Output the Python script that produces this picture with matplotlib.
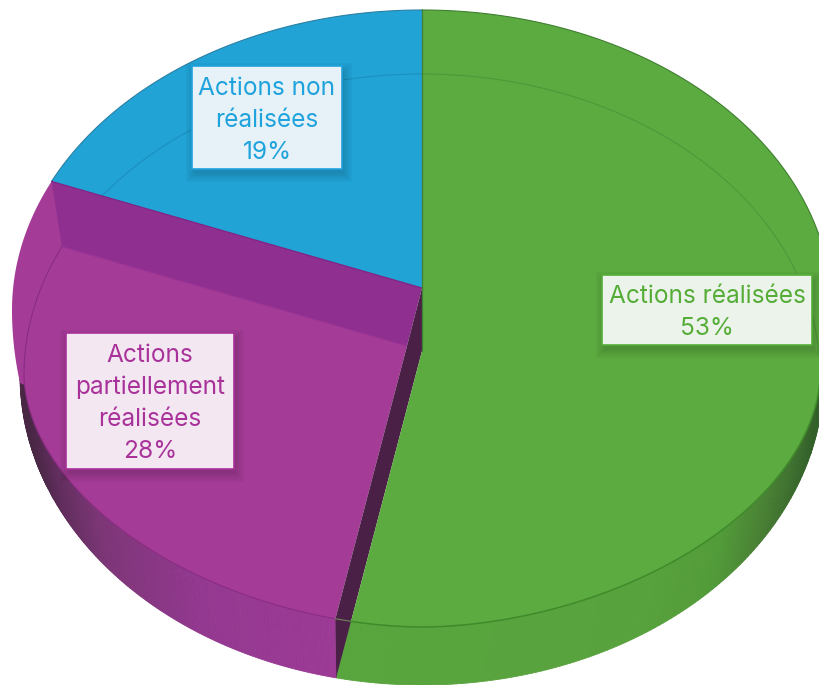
import numpy as np
import matplotlib.pyplot as plt
from matplotlib.patches import Polygon, Rectangle

# Valeurs du graphique
categories = ["Actions réalisées", "Actions\npartiellement\nréalisées", "Actions non\nréalisées"]
values = [53, 28, 19]
colors = ["#5CAB40", "#A43B97", "#22A3D6"]
text_colors = ["#55AD38", "#A9329A", "#1FA3DC"]
box_fills = ["#ECF3EB", "#F3E8F2", "#E7F1F8"]

# Boites des etiquettes: x0, y0, x1, y1 en pixels
boxes = [(602, 275, 812, 345), (66, 333, 234, 469), (192, 66, 342, 169)]

plt.rcParams['font.family'] = ['Inter', 'DejaVu Sans']

# Geometrie du faux 3D (pixels de l'image)
CX = 422
DIR_X, DIR_Y = 410, 298
ring_top = (310, 410, 300, 370, 2.0)
ring_mid = (375, 398, 301, 252, 1.85)
ring_low = (375, 402, 301, 310, 2.0)
apex_top = (422, 288)
apex_mid = (422, 351)
apex_purple = (407, 346)
apex_low = (407, 408)


def rim(thetas, apex, ring):
    # cherche le point ou le rayon parti de apex coupe l'anneau
    cy, rx, up, down, p = ring
    pts = []
    for th in thetas:
        dx, dy = DIR_X * np.sin(th), -DIR_Y * np.cos(th)
        lo, hi = 0.0, 2.0
        for _ in range(40):
            t = (lo + hi) / 2
            x, y = apex[0] + t * dx, apex[1] + t * dy
            if y < cy:
                val = ((x - CX) / rx) ** 2 + ((y - cy) / up) ** 2
            else:
                val = abs((x - CX) / rx) ** p + abs((y - cy) / down) ** p
            if val < 1:
                lo = t
            else:
                hi = t
        pts.append((apex[0] + lo * dx, apex[1] + lo * dy))
    return np.array(pts)


def sweep(a, b, n=160):
    return np.radians(np.linspace(a, b, n))


def side(upper, lower, xs, shades):
    # bande laterale decoupee en petits quads pour faire le degrade
    for i in range(len(upper) - 1):
        quad = [upper[i], upper[i + 1], lower[i + 1], lower[i]]
        c = [np.interp(upper[i][0], xs, [s[k] for s in shades]) for k in range(3)]
        ax.add_patch(Polygon(quad, closed=True, fc=c, ec=c, lw=0.6))


def hex_rgb(h):
    return tuple(int(h[i:i + 2], 16) / 255 for i in (1, 3, 5))


green_end = 360 * values[0] / sum(values)
blue_start = -360 * values[2] / sum(values)
purple_end = green_end - 360

fig = plt.figure(figsize=(8.2, 6.85), dpi=100)
ax = fig.add_axes([0, 0, 1, 1])
ax.set_xlim(0, 820)
ax.set_ylim(685, 0)
ax.axis('off')

# Flancs
green_xs = [340, 650, 720, 770, 820]
green_shades = [hex_rgb(c) for c in ["#58A53D", "#58A23D", "#529B39", "#487F33", "#33602A"]]
side(rim(sweep(green_end, 70), apex_mid, ring_mid), rim(sweep(green_end, 70), apex_low, ring_low),
     green_xs, green_shades)
purple_xs = [20, 50, 100, 200, 335]
purple_shades = [hex_rgb(c) for c in ["#43263F", "#5E2C5A", "#7D3577", "#933890", "#9C3A95"]]
side(rim(sweep(-80, purple_end, 180), apex_purple, ring_mid), rim(sweep(-80, purple_end, 180), apex_low, ring_low),
     purple_xs, purple_shades)

# Face violette
purple_pts = np.vstack([rim(sweep(blue_start, -108, 60), apex_top, ring_top),
                        rim(sweep(-98, purple_end), apex_purple, ring_mid),
                        [apex_purple]])
ax.add_patch(Polygon(purple_pts, closed=True, fc=colors[1], ec='none'))

# Face bleue et son trait interieur
blue_pts = np.vstack([[apex_top], rim(sweep(blue_start, 0, 80), apex_top, ring_top)])
ax.add_patch(Polygon(blue_pts, closed=True, fc=colors[2], ec='none'))
blue_line = rim(sweep(blue_start, 0, 80), apex_mid, ring_mid)
ax.plot(blue_line[:, 0], blue_line[:, 1], color="#1B8FBE", lw=0.8, zorder=1)
blue_edge = blue_pts[1:]
ax.plot(blue_edge[:, 0], blue_edge[:, 1], color="#2A7FA3", lw=0.8, zorder=1)

# Paroi entre le bleu et le violet
wall_a = rim(np.radians([blue_start]), apex_top, ring_top)[0]
wall_b = rim(np.radians([blue_start]), apex_purple, ring_mid)[0]
ax.add_patch(Polygon([wall_a, apex_top, apex_purple, wall_b], closed=True, fc="#8F2F90", ec='none', zorder=2))
ax.plot([wall_a[0], apex_top[0]], [wall_a[1], apex_top[1]], color="#7E2484", lw=0.9, zorder=2)
ax.plot([wall_b[0], apex_purple[0]], [wall_b[1], apex_purple[1]], color="#9A3496", lw=0.8, zorder=2)
purple_line = rim(sweep(blue_start, purple_end), apex_purple, ring_mid)
ax.plot(purple_line[:, 0], purple_line[:, 1], color="#8A2C82", lw=0.8, zorder=2)

# Paroi sombre entre le violet et le vert
end_mid = rim(np.radians([green_end]), apex_mid, ring_mid)[0]
end_low = rim(np.radians([green_end]), apex_low, ring_low)[0]
end_purple = rim(np.radians([green_end]), apex_purple, ring_mid)[0]
ax.add_patch(Polygon([apex_top, apex_mid, end_mid, end_low, end_purple, apex_purple],
                     closed=True, fc="#4A2046", ec='none', zorder=2))
ax.plot([end_purple[0], end_mid[0]], [end_purple[1], end_mid[1]], color="#6F7A58", lw=0.9, zorder=2)

# Face verte
green_pts = np.vstack([rim(sweep(0, 92, 100), apex_top, ring_top),
                       rim(sweep(96, green_end), apex_mid, ring_mid),
                       [apex_mid]])
ax.add_patch(Polygon(green_pts, closed=True, fc=colors[0], ec='none', zorder=3))
green_line = rim(sweep(0, green_end, 240), apex_mid, ring_mid)
upper_part = green_line[green_line[:, 1] < 375]
lower_part = green_line[green_line[:, 1] >= 375]
ax.plot(upper_part[:, 0], upper_part[:, 1], color="#4E983A", lw=0.8, zorder=3)
ax.plot(lower_part[:, 0], lower_part[:, 1], color="#3F8A2B", lw=1.1, zorder=3)
green_edge = rim(sweep(0, 80, 80), apex_top, ring_top)
ax.plot(green_edge[:, 0], green_edge[:, 1], color="#3F7F30", lw=0.8, zorder=3)
ax.plot([CX, CX], [10, apex_mid[1]], color="#3F8038", lw=0.9, zorder=3)

# Etiquettes
for name, val, box, fill, tc in zip(categories, values, boxes, box_fills, text_colors):
    x0, y0, x1, y1 = box
    # ombre floue
    for grow in [8, 6, 4, 2, 0]:
        ax.add_patch(Rectangle((x0 + 2 - grow, y0 + 5 - grow), x1 - x0 + 2 * grow, y1 - y0 + 2 * grow,
                               fc='black', ec='none', alpha=0.03, zorder=5))
    ax.add_patch(Rectangle((x0, y0), x1 - x0, y1 - y0, fc=fill, ec=tc, lw=1.2, zorder=6))
    ax.text((x0 + x1) / 2, (y0 + y1) / 2 + 2.5, f"{name}\n{val}%", ha='center', va='center',
            color=tc, fontsize=17.6, linespacing=1.5, zorder=7)

plt.savefig("out.png", dpi=100)
plt.close()
